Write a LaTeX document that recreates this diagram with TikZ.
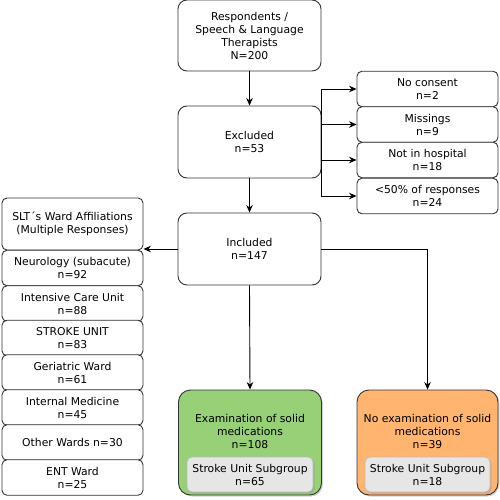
\documentclass[tikz,border=0pt]{standalone}
\usepackage{fontspec}
\setmainfont{DejaVu Sans}
\usetikzlibrary{arrows.meta,shadows}
\definecolor{boxline}{HTML}{333333}
\definecolor{gfill}{HTML}{97D077}
\definecolor{ofill}{HTML}{FFB570}
\definecolor{ifill}{HTML}{E6E6E6}
\definecolor{iline}{HTML}{BBBBBB}
\tikzset{
  bigbox/.style={draw=boxline, line width=0.9pt, rounded corners=9pt, fill=white,
    minimum width=143pt, minimum height=72pt, align=center, inner sep=0pt,
    font=\fontsize{10.8}{13}\selectfont},
  smallbox/.style={draw=boxline, line width=0.9pt, rounded corners=5pt, fill=white,
    minimum width=141pt, minimum height=35.5pt, align=center, inner sep=0pt,
    font=\fontsize{10.8}{13}\selectfont},
  resbox/.style={draw=boxline, line width=0.9pt, rounded corners=12pt,
    minimum width=143pt, minimum height=105pt, inner sep=0pt,
    drop shadow={shadow xshift=1.5pt, shadow yshift=-1.5pt, opacity=0.35}},
  subbox/.style={draw=iline, line width=0.8pt, rounded corners=5pt, fill=ifill,
    minimum width=126pt, minimum height=35pt, align=center, inner sep=0pt,
    font=\fontsize{10.8}{13}\selectfont,
    drop shadow={shadow xshift=1.5pt, shadow yshift=-1.5pt, opacity=0.3}},
  txt/.style={align=center, inner sep=0pt, font=\fontsize{10.8}{13}\selectfont},
  arr/.style={draw=black, line width=0.9pt, -{Stealth[length=7.5pt,width=6.5pt]}},
  ln/.style={draw=black, line width=0.9pt}
}
\begin{document}
\begin{tikzpicture}[x=1pt,y=-1pt]
\useasboundingbox (0,0) rectangle (500,500);
% main column
\node[bigbox, minimum height=71pt] (resp) at (249.5,35.5) {Respondents /\\Speech \& Language\\Therapists\\N=200};
\node[bigbox] (excl) at (249.5,142) {Excluded\\n=53};
\node[bigbox] (incl) at (249.5,249) {Included\\n=147};
% exclusion reasons
\node[smallbox] (nc) at (427.5,89) {No consent\\n=2};
\node[smallbox] (miss) at (427.5,124.5) {Missings\\n=9};
\node[smallbox] (nh) at (427.5,160) {Not in hospital\\n=18};
\node[smallbox] (lt) at (427.5,196) {<50\% of responses\\n=24};
% ward affiliations
\node[smallbox, minimum height=52pt] (slt) at (72.5,224) {SLT´s Ward Affiliations\\(Multiple Responses)};
\node[smallbox] (neu) at (72.5,268) {Neurology (subacute)\\n=92};
\node[smallbox] (icu) at (72.5,303.5) {Intensive Care Unit\\n=88};
\node[smallbox] (su) at (72.5,338) {STROKE UNIT\\n=83};
\node[smallbox] (ger) at (72.5,372.5) {Geriatric Ward\\n=61};
\node[smallbox] (im) at (72.5,407.5) {Internal Medicine\\n=45};
\node[smallbox] (ow) at (72.5,442.5) {Other Wards n=30};
\node[smallbox] (ent) at (72.5,477.5) {ENT Ward\\n=25};
% results
\node[resbox, fill=gfill] (exam) at (250,442.5) {};
\node[txt] (examt) at (250,431) {Examination of solid\\medications\\n=108};
\node[subbox] (exams) at (250,474.5) {Stroke Unit Subgroup\\n=65};
\node[resbox, fill=ofill, minimum width=141pt] (noex) at (427.5,442.5) {};
\node[txt] (noext) at (427.5,431) {No examination of solid\\medications\\n=39};
\node[subbox, minimum width=125pt] (noexs) at (427.5,474.5) {Stroke Unit Subgroup\\n=18};
% connectors
\draw[arr] (resp.south) -- (excl.north);
\draw[arr] (excl.south) -- (incl.north);
\coordinate (b1) at (excl.east |- nc.west);
\coordinate (b4) at (excl.east |- lt.west);
\draw[ln] (b1) -- (b4);
\draw[arr] (b1) -- (nc.west);
\draw[arr] (excl.east |- miss.west) -- (miss.west);
\draw[arr] (excl.east |- nh.west) -- (nh.west);
\draw[arr] (b4) -- (lt.west);
\coordinate (sltin) at (slt.east |- incl.west);
\draw[arr] (incl.west) -- (sltin);
\draw[arr] (incl.south) -- (exam.north);
\draw[arr] (incl.east) -| (noex.north);
\end{tikzpicture}
\end{document}
